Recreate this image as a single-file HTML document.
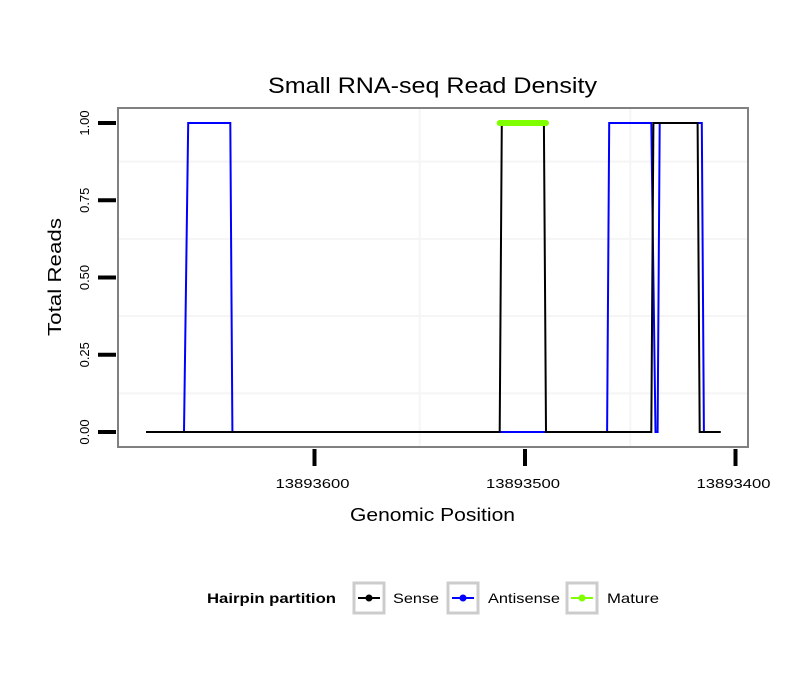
<!DOCTYPE html>
<html><head><meta charset="utf-8"><style>
body{margin:0;background:#fff;font-family:"Liberation Sans",sans-serif;}
</style></head><body>
<svg width="810" height="690" xmlns="http://www.w3.org/2000/svg" font-family="Liberation Sans, sans-serif">
<rect width="810" height="690" fill="#fff"/>
<text x="268" y="93" textLength="329" lengthAdjust="spacingAndGlyphs" font-size="22">Small RNA-seq Read Density</text>
<g id="grid"></g>
<g id="series"></g>
<rect x="118" y="108" width="630" height="339" fill="none" stroke="#808080" stroke-width="2"/>
<g id="axes"></g>
<text x="350" y="521" textLength="165" lengthAdjust="spacingAndGlyphs" font-size="18">Genomic Position</text>
<text transform="translate(61,336) rotate(-90)" textLength="118" lengthAdjust="spacingAndGlyphs" font-size="18">Total Reads</text>
<g>
<text x="207" y="603" textLength="129" lengthAdjust="spacingAndGlyphs" font-size="14" font-weight="bold">Hairpin partition</text>
<g>
<rect x="354" y="583" width="30" height="30" fill="#fff" stroke="#ccc" stroke-width="3"/>
<line x1="358" y1="598" x2="380" y2="598" stroke="#000" stroke-width="2"/><circle cx="369" cy="598" r="3.5" fill="#000"/>
<text x="393" y="603" textLength="46" lengthAdjust="spacingAndGlyphs" font-size="14">Sense</text></g>
<g>
<rect x="448" y="583" width="30" height="30" fill="#fff" stroke="#ccc" stroke-width="3"/>
<line x1="452" y1="598" x2="474" y2="598" stroke="#00f" stroke-width="2"/><circle cx="463" cy="598" r="3.5" fill="#00f"/>
<text x="488" y="603" textLength="72" lengthAdjust="spacingAndGlyphs" font-size="14">Antisense</text></g>
<g>
<rect x="567" y="583" width="30" height="30" fill="#fff" stroke="#ccc" stroke-width="3"/>
<line x1="571" y1="598" x2="593" y2="598" stroke="#7fff00" stroke-width="2"/><circle cx="582" cy="598" r="3.5" fill="#7fff00"/>
<text x="607" y="603" textLength="52" lengthAdjust="spacingAndGlyphs" font-size="14">Mature</text></g>
</g>
</svg>
<script>
const xTicks = [13893600, 13893500, 13893400];
const yTicks = [0, 0.25, 0.5, 0.75, 1];
const yTickLabels = ["0.00","0.25","0.50","0.75","1.00"];
const sensePos = [13893680, 13893512, 13893511, 13893491, 13893490, 13893440, 13893439, 13893418, 13893417, 13893407];
const senseVal = [0, 0, 1, 1, 0, 0, 1, 1, 0, 0];
const antiPos = [13893680, 13893662, 13893660, 13893640, 13893639, 13893461, 13893460, 13893440, 13893438, 13893437, 13893436, 13893416, 13893415, 13893414];
const antiVal = [0, 0, 1, 1, 0, 0, 1, 1, 0, 0, 1, 1, 0, 0];
const maturePos = [13893512, 13893490];
const matureVal = [1, 1];

const NS="http://www.w3.org/2000/svg";
function X(p){return 525+(13893500-p)*2.105;}
function Y(v){return 432-v*309;}
function mk(t,a,parent){const e=document.createElementNS(NS,t);for(const k in a)e.setAttribute(k,a[k]);parent.appendChild(e);return e;}
const grid=document.getElementById('grid'), ser=document.getElementById('series'), ax=document.getElementById('axes');
for(let i=0;i<yTicks.length-1;i++){const v=(yTicks[i]+yTicks[i+1])/2;
 const l=mk('line',{x1:119,x2:747,y1:Y(v),y2:Y(v),stroke:'#f5f5f5','stroke-width':2},grid);
 
 }
for(let i=0;i<xTicks.length-1;i++){const p=(xTicks[i]+xTicks[i+1])/2;
 const l=mk('line',{x1:X(p),x2:X(p),y1:109,y2:446,stroke:'#f5f5f5','stroke-width':2},grid);
 
 }
yTicks.forEach((v,i)=>{
 const t=mk('line',{x1:98,x2:116,y1:Y(v),y2:Y(v),stroke:'#000','stroke-width':4},ax);
 
 
 const tx=mk('text',{transform:`translate(${89},${Y(v)}) rotate(-90)`,'text-anchor':'middle','font-size':13},ax);
 tx.textContent=yTickLabels[i];
 
 
});
xTicks.forEach(p=>{
 const t=mk('line',{x1:X(p),x2:X(p),y1:449,y2:466,stroke:'#000','stroke-width':4},ax);
 
 
 const tx=mk('text',{x:X(p)-39,y:488,textLength:74,lengthAdjust:'spacingAndGlyphs','font-size':13},ax);
 tx.textContent=String(p);
 
 
});
function line(pos,val,color,w,name,cap){
 const pts=pos.map((p,i)=>X(p).toFixed(1)+','+Y(val[i]).toFixed(1)).join(' ');
 const l=mk('polyline',{points:pts,fill:'none',stroke:color,'stroke-width':w,'stroke-linecap':cap||'butt','stroke-linejoin':'miter'},ser);
 
 
}
line(antiPos,antiVal,'#0000ff',2,'antisense-line');
line(sensePos,senseVal,'#000000',2,'sense-line');
line(maturePos,matureVal,'#7fff00',6,'mature-line','round');
</script>
</body></html>
